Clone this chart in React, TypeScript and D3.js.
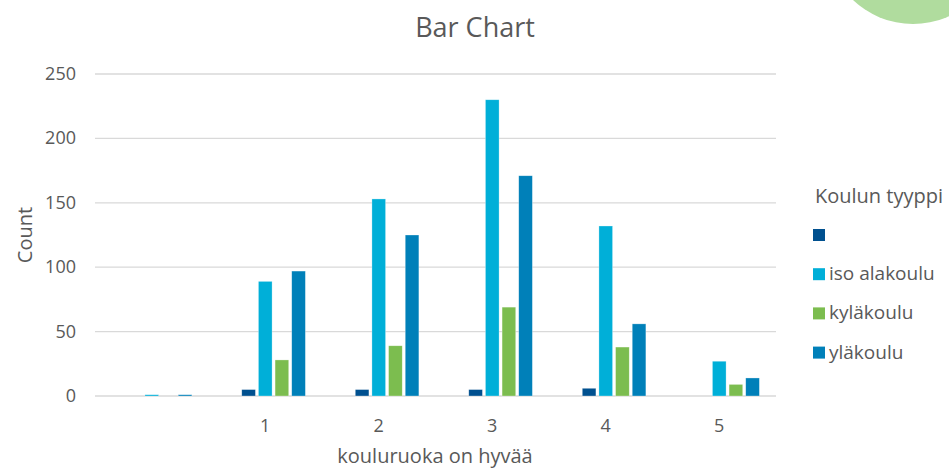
import React from "react";
import * as d3 from "d3";

// categories on the x axis (first one is the blank answer)
const categories = ["", "1", "2", "3", "4", "5"];
// series names (first series has an empty name in the source)
const seriesNames = ["", "iso alakoulu", "kyläkoulu", "yläkoulu"];
const seriesColors = ["#00508F", "#00AFD8", "#7CBD4F", "#0080B9"];

const blankValues = [0, 5, 5, 5, 6, 0];
const isoAlakouluValues = [1, 89, 153, 230, 132, 27];
const kylakouluValues = [0, 28, 39, 69, 38, 9];
const ylakouluValues = [1, 97, 125, 171, 56, 14];

const yTicks = [0, 50, 100, 150, 200, 250];

const seriesValues = [blankValues, isoAlakouluValues, kylakouluValues, ylakouluValues];

const App = () => {
    const width = 949;
    const height = 469;
    const left = 95;
    const right = 776;
    const top = 74;
    const bottom = 396;
    const font = "'Open Sans', sans-serif";
    const grey = "#595959";

    const x0 = d3.scaleBand().domain(categories.map((c, i) => String(i))).range([left, right]);
    // excel keeps an empty slot in front of the groups, so 5 slots per category
    const slots = ["_empty", ...seriesNames.map((s, i) => "s" + i)];
    const slotScale = d3.scaleBand().domain(slots).range([x0.bandwidth() * 0.12, x0.bandwidth() * 0.88]).padding(0.18);

    const y = d3.scaleLinear().domain([0, 250]).range([bottom, top]);

    return (
        <svg width={width} height={height} style={{ position: "absolute", left: 0, top: 0, background: "#fff" }}>
            <circle cx={913} cy={-63} r={87} fill="#B0DC9E" />
            <text x={475} y={37} textAnchor="middle" fontFamily={font} fontSize={27} fill={grey}>Bar Chart</text>
            {yTicks.map((t) => (
                <g key={t}>
                    <line x1={left} x2={right} y1={y(t)} y2={y(t)} stroke="#D9D9D9" strokeWidth={1.3} />
                    <text x={76} y={y(t) + 6} textAnchor="end" fontFamily={font} fontSize={18} fill={grey}>{t}</text>
                </g>
            ))}
            {categories.map((c, ci) => (
                <g key={ci} transform={`translate(${x0(String(ci))},0)`}>
                    {seriesValues.map((vals, si) => {
                        const v = vals[ci];
                        if (!v) return null;
                        const xs = slotScale("s" + si) as number;
                        return (
                            <rect key={si} x={xs} y={y(v)} width={slotScale.bandwidth()} height={bottom - y(v)}
                                fill={seriesColors[si]} stroke="#ffffff" strokeOpacity={0.5} strokeWidth={0.6} />
                        );
                    })}
                    <text x={x0.bandwidth() / 2} y={432} textAnchor="middle" fontFamily={font} fontSize={18} fill={grey}>{c}</text>
                </g>
            ))}
            <text transform={`translate(32,${(top + bottom) / 2}) rotate(-90)`} textAnchor="middle" fontFamily={font} fontSize={20} fill={grey}>Count</text>
            <text x={435} y={463} textAnchor="middle" fontFamily={font} fontSize={20} fill={grey}>kouluruoka on hyvää</text>
            <text x={815} y={203} fontFamily={font} fontSize={20} fill={grey}>Koulun tyyppi</text>
            {seriesNames.map((s, i) => (
                <g key={i} transform={`translate(813,${235 + i * 39.2})`}>
                    <rect x={0} y={-6} width={12} height={12} fill={seriesColors[i]} />
                    <text x={16} y={6} fontFamily={font} fontSize={19} fill={grey}>{s}</text>
                </g>
            ))}
        </svg>
    );
};

export default App;
